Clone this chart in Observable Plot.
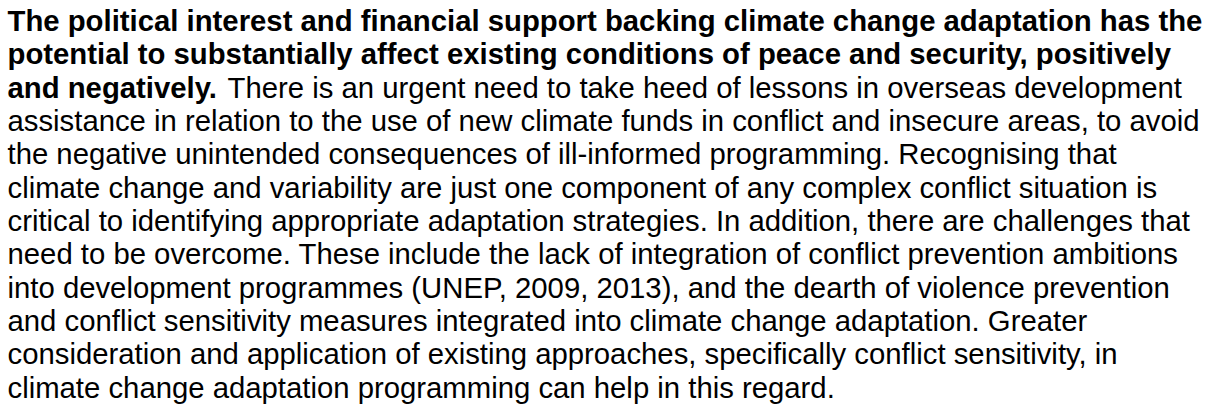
<!DOCTYPE html>
<html>
<head>
<meta charset="utf-8">
<script src="https://cdn.jsdelivr.net/npm/d3@7"></script>
<script src="https://cdn.jsdelivr.net/npm/@observablehq/plot@0.6"></script>
<style>
  html, body { margin: 0; padding: 0; background: #ffffff; }
  svg { display: block; }
</style>
</head>
<body>
<div id="chart"></div>
<script>
// Lines of the paragraph as they wrap in the reference
const lineTexts = [
  "The political interest and financial support backing climate change adaptation has the",
  "potential to substantially affect existing conditions of peace and security, positively",
  "and negatively. There is an urgent need to take heed of lessons in overseas development",
  "assistance in relation to the use of new climate funds in conflict and insecure areas, to avoid",
  "the negative unintended consequences of ill-informed programming. Recognising that",
  "climate change and variability are just one component of any complex conflict situation is",
  "critical to identifying appropriate adaptation strategies. In addition, there are challenges that",
  "need to be overcome. These include the lack of integration of conflict prevention ambitions",
  "into development programmes (UNEP, 2009, 2013), and the dearth of violence prevention",
  "and conflict sensitivity measures integrated into climate change adaptation. Greater",
  "consideration and application of existing approaches, specifically conflict sensitivity, in",
  "climate change adaptation programming can help in this regard."
];
// bold lead-in: full bold lines and the bold prefix of the mixed line
const boldLines = [0, 1];
const mixedLine = 2;
const mixedBoldPrefix = "and negatively.";

const rows = lineTexts.map((t, i) => ({line: i, text: t, bold: boldLines.includes(i)}));

const common = {
  x: () => 0,
  y: "line",
  text: "text",
  textAnchor: "start",
  lineAnchor: "bottom",
  fontSize: 29.3,
  fill: "#000000"
};

const chart = Plot.plot({
  width: 1215,
  height: 409,
  margin: 0,
  marginLeft: 7,
  x: {domain: [0, 1], axis: null},
  y: {domain: [0, lineTexts.length - 1], range: [30.5, 397], axis: null},
  style: {background: "#ffffff", fontFamily: "'Liberation Sans', Arial, sans-serif"},
  marks: [
    Plot.text(rows.filter(d => d.bold), {...common, fontWeight: "bold"}),
    Plot.text(rows.filter(d => !d.bold), {...common, fontWeight: "normal"})
  ]
});

// mixed-weight line: bold prefix then regular text
const t = Array.from(chart.querySelectorAll("text")).find(e => e.textContent === lineTexts[mixedLine]);
if (t) {
  const full = lineTexts[mixedLine];
  t.textContent = "";
  const ns = "http://www.w3.org/2000/svg";
  const b = document.createElementNS(ns, "tspan");
  b.setAttribute("font-weight", "bold");
  b.textContent = mixedBoldPrefix;
  const r = document.createElementNS(ns, "tspan");
  r.setAttribute("font-weight", "normal");
  r.setAttribute("dx", "3");
  r.textContent = full.slice(mixedBoldPrefix.length);
  t.appendChild(b);
  t.appendChild(r);
  t.setAttribute("xml:space", "preserve");
  t.style.whiteSpace = "pre";
}
document.getElementById("chart").appendChild(chart);
</script>
</body>
</html>
